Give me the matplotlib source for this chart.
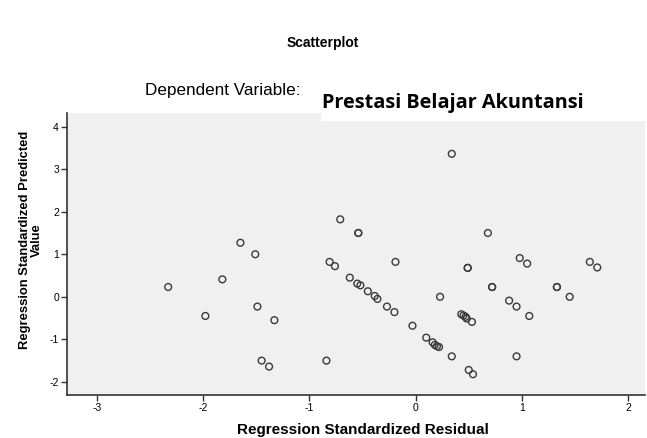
import matplotlib
matplotlib.use("Agg")
import matplotlib.pyplot as plt
from matplotlib.patches import Rectangle

plt.rcParams["font.family"] = ["Liberation Sans", "DejaVu Sans"]
plt.rcParams["axes.unicode_minus"] = False  # SPSS prints plain hyphens

# ── Data (read from the SPSS scatterplot) ──
resid = [
    -2.33, -1.98, -1.82, -1.65, -1.51, -1.49, -1.33, -1.45, -1.38, -0.84,
    -0.71, -0.81, -0.76, -0.62, -0.54, -0.54, 0.34, 0.68, -0.19, 0.49,
    0.49, 0.98, 1.05, 1.64, 1.71, -0.55, -0.52, -0.45, -0.385, -0.36,
    -0.27, -0.20, -0.03, 0.10, 0.16, 0.18, 0.20, 0.22, 0.34, 0.50,
    0.54, 0.23, 0.72, 0.72, 1.33, 1.33, 1.45, 0.88, 0.95, 1.07,
    0.43, 0.45, 0.47, 0.48, 0.53, 0.95,
]
pred = [
    0.23, -0.45, 0.41, 1.27, 1.00, -0.23, -0.55, -1.50, -1.64, -1.50,
    1.82, 0.82, 0.72, 0.45, 1.50, 1.50, 3.36, 1.50, 0.82, 0.68,
    0.68, 0.91, 0.78, 0.82, 0.69, 0.31, 0.27, 0.13, 0.02, -0.05,
    -0.23, -0.36, -0.68, -0.96, -1.07, -1.13, -1.16, -1.18, -1.40, -1.72,
    -1.82, 0.00, 0.23, 0.23, 0.23, 0.23, 0.00, -0.09, -0.23, -0.45,
    -0.41, -0.44, -0.47, -0.51, -0.59, -1.40,
]
x_ticks = [-3, -2, -1, 0, 1, 2]
y_ticks = [-2, -1, 0, 1, 2, 3, 4]

W, H = 647, 438
fig = plt.figure(figsize=(W / 100, H / 100), dpi=100)
ax = fig.add_axes([0.104, 0.098, 0.893, 0.645])
ax.set_facecolor("#f0f0f0")

ax.scatter(resid, pred, s=24, facecolors="none", edgecolors="#3a3a3a",
           linewidths=1.0, zorder=3)

ax.set_xlim(-3.28, 2.16)
ax.set_ylim(-2.31, 4.33)
ax.set_xticks(x_ticks)
ax.set_yticks(y_ticks)
ax.tick_params(labelsize=7.5, length=4, width=1, color="#333333", pad=2)

for side in ["top", "right"]:
    ax.spines[side].set_visible(False)
for side in ["left", "bottom"]:
    ax.spines[side].set_color("#333333")
    ax.spines[side].set_linewidth(1.2)

ax.set_xlabel("Regression Standardized Residual", fontsize=11,
              fontweight="bold")
ax.xaxis.set_label_coords((362.7 - 67.3) / (645 - 67.3), -0.1)
ax.xaxis.label.set_va("top")
ax.set_ylabel("Regression Standardized Predicted\nValue", fontsize=9.4,
              fontweight="bold", linespacing=1.0)
ax.yaxis.set_label_coords(-0.042, 0.549)

# ── Titles ──
fig.text(323 / W, 1 - 43 / H, "Scatterplot", ha="center", va="center",
         fontsize=10, fontweight="bold")
fig.text(145 / W, 1 - 95 / H, "Dependent Variable: ", ha="left",
         va="baseline", fontsize=12.3)

# white patch pasted over the original dependent variable name
fig.patches.append(Rectangle((321 / W, 1 - 121 / H), 326 / W, 40 / H,
                             transform=fig.transFigure, facecolor="white",
                             edgecolor="none", zorder=5))
fig.text(322 / W, 1 - 108.3 / H, "Prestasi Belajar Akuntansi", ha="left",
         va="baseline", fontsize=14.3, fontweight="bold",
         family=["Open Sans", "DejaVu Sans"], zorder=6)

fig.savefig("out.png", dpi=100, facecolor="white")
